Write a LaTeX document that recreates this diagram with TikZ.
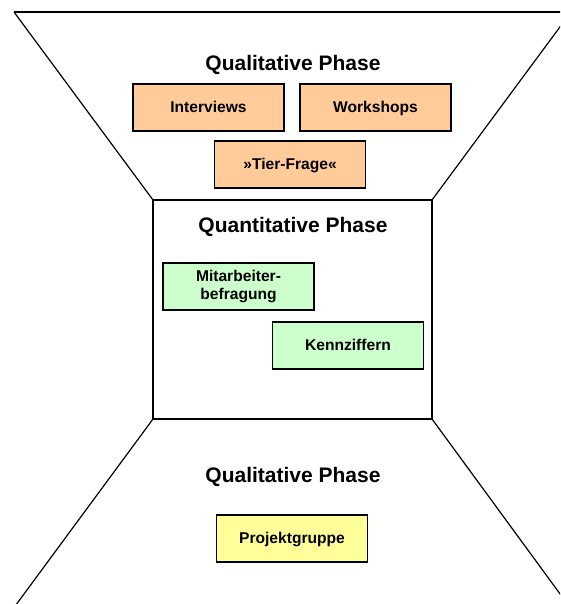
\documentclass[tikz,border=0pt]{standalone}
\usepackage{fontspec}
\setmainfont{Liberation Sans}
\usetikzlibrary{calc}
\definecolor{qualfill}{HTML}{FFCC99}
\definecolor{quantfill}{HTML}{CCFFCC}
\definecolor{gruppefill}{HTML}{FFFF99}

\begin{document}
\begin{tikzpicture}[x=1pt,y=-1pt,
  phase/.style={font=\fontsize{21}{24}\selectfont\bfseries, anchor=base, inner sep=0},
  item/.style={draw=black, line width=1.5pt, minimum width=151pt, minimum height=47pt,
    inner sep=2pt, align=center, font=\fontsize{15.6}{17.5}\selectfont\bfseries},
  oneline/.style={text height=12.5pt, text depth=3.1pt},
  quali/.style={item, oneline, fill=qualfill},
  quanti/.style={item, fill=quantfill},
  gruppe/.style={item, oneline, fill=gruppefill}]
\useasboundingbox (0,0) rectangle (560,604);
\clip (0,0) rectangle (560,604);
\fill[white] (0,0) rectangle (560,604);
% funnel corners
\coordinate (tl) at (14,12);
\coordinate (tr) at (571,12);
\coordinate (bl) at (10,613);
\coordinate (br) at (574,613);
\coordinate (sq1) at (153,200);
\coordinate (sq2) at (432,200);
\coordinate (sq3) at (432,419);
\coordinate (sq4) at (153,419);
\draw[line width=1.3pt] (tl)--(tr);
\draw[line width=1.2pt] (tl)--(sq1) (tr)--(sq2) (sq4)--(bl) (sq3)--(br);
\draw[line width=1.8pt] (sq1)--(sq2)--(sq3)--(sq4)--cycle;
% titles
\node[phase] (qual1) at (293,71) {Qualitative Phase};
\node[phase] (quant) at (293,232) {Quantitative Phase};
\node[phase] (qual2) at (293,482) {Qualitative Phase};
% boxes
\node[quali] (interviews) at (208.5,107.5) {Interviews};
\node[quali] (workshops) at (375.5,107.5) {Workshops};
\node[quali] (tierfrage) at (290,164.5) {»Tier-Frage«};
\node[quanti] (mitarbeiter) at (238.5,286.5) {Mitarbeiter-\\befragung};
\node[quanti, oneline] (kennziffern) at (348,345.5) {Kennziffern};
\node[gruppe] (projekt) at (292,538.5) {Projektgruppe};
\end{tikzpicture}
\end{document}
